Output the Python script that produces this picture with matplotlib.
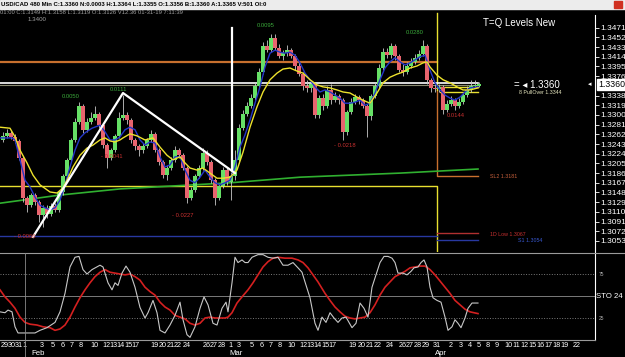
import matplotlib
matplotlib.use("Agg")
import matplotlib.pyplot as plt
from matplotlib.patches import Rectangle
from matplotlib.lines import Line2D

plt.rcParams['font.family'] = ['Liberation Sans Narrow', 'Liberation Sans', 'DejaVu Sans']

# USD/CAD 480 min bars (x = bar index)
opens = [1.3251, 1.3259, 1.3265, 1.3257, 1.3249, 1.3216, 1.3137, 1.3123, 1.3143, 1.3129,
         1.3104, 1.3118, 1.3106, 1.3122, 1.3114, 1.3149, 1.3180, 1.3212, 1.3251, 1.3286,
         1.3318, 1.3271, 1.3286, 1.3294, 1.3302, 1.3280, 1.3241, 1.3216, 1.3231, 1.3259,
         1.3294, 1.3300, 1.3290, 1.3251, 1.3239, 1.3231, 1.3239, 1.3251, 1.3263, 1.3231,
         1.3208, 1.3182, 1.3196, 1.3212, 1.3231, 1.3221, 1.3196, 1.3137, 1.3153, 1.3180,
         1.3196, 1.3225, 1.3208, 1.3172, 1.3137, 1.3161, 1.3192, 1.3168, 1.3180, 1.3212,
         1.3274, 1.3302, 1.3318, 1.3333, 1.3357, 1.3384, 1.3435, 1.3427, 1.3451, 1.3431,
         1.3416, 1.3421, 1.3427, 1.3416, 1.3396, 1.3380, 1.3357, 1.3353, 1.3361, 1.3300,
         1.3333, 1.3318, 1.3349, 1.3329, 1.3337, 1.3329, 1.3267, 1.3306, 1.3325, 1.3335,
         1.3329, 1.3318, 1.3298, 1.3337, 1.3357, 1.3392, 1.3423, 1.3417, 1.3435, 1.3416,
         1.3388, 1.3384, 1.3396, 1.3404, 1.3412, 1.3419, 1.3435, 1.3369, 1.3353, 1.3351,
         1.3355, 1.3310, 1.3321, 1.3329, 1.3318, 1.3325, 1.3339, 1.3349, 1.3357, 1.3356]
closes = [1.3259, 1.3265, 1.3257, 1.3249, 1.3216, 1.3137, 1.3123, 1.3143, 1.3129, 1.3104,
          1.3118, 1.3106, 1.3122, 1.3114, 1.3149, 1.3180, 1.3212, 1.3251, 1.3286, 1.3318,
          1.3271, 1.3286, 1.3294, 1.3302, 1.3280, 1.3241, 1.3216, 1.3231, 1.3259, 1.3294,
          1.3300, 1.3290, 1.3251, 1.3239, 1.3231, 1.3239, 1.3251, 1.3263, 1.3231, 1.3208,
          1.3182, 1.3196, 1.3212, 1.3231, 1.3221, 1.3196, 1.3137, 1.3153, 1.3180, 1.3196,
          1.3225, 1.3208, 1.3172, 1.3137, 1.3161, 1.3192, 1.3168, 1.3180, 1.3212, 1.3274,
          1.3302, 1.3318, 1.3333, 1.3357, 1.3384, 1.3435, 1.3427, 1.3451, 1.3431, 1.3416,
          1.3421, 1.3427, 1.3416, 1.3396, 1.3380, 1.3357, 1.3353, 1.3361, 1.3300, 1.3333,
          1.3318, 1.3349, 1.3329, 1.3337, 1.3329, 1.3267, 1.3306, 1.3325, 1.3335, 1.3329,
          1.3318, 1.3298, 1.3337, 1.3357, 1.3392, 1.3423, 1.3417, 1.3435, 1.3416, 1.3388,
          1.3384, 1.3396, 1.3404, 1.3412, 1.3419, 1.3435, 1.3369, 1.3353, 1.3351, 1.3355,
          1.3310, 1.3321, 1.3329, 1.3318, 1.3325, 1.3339, 1.3349, 1.3357, 1.3359, 1.3360]
highs = [1.3267, 1.3272, 1.3269, 1.3263, 1.3253, 1.3219, 1.3141, 1.3147, 1.3147, 1.3133,
         1.3123, 1.3123, 1.3127, 1.3127, 1.3153, 1.3184, 1.3216, 1.3255, 1.3294, 1.3325,
         1.3321, 1.3294, 1.3306, 1.3318, 1.3306, 1.3284, 1.3245, 1.3235, 1.3263, 1.3306,
         1.3339, 1.3306, 1.3294, 1.3255, 1.3243, 1.3245, 1.3255, 1.3271, 1.3267, 1.3235,
         1.3212, 1.3202, 1.3218, 1.3239, 1.3235, 1.3225, 1.3200, 1.3159, 1.3184, 1.3202,
         1.3235, 1.3231, 1.3212, 1.3176, 1.3165, 1.3198, 1.3196, 1.3188, 1.3231, 1.3282,
         1.3310, 1.3325, 1.3341, 1.3365, 1.3392, 1.3443, 1.3447, 1.3459, 1.3459, 1.3439,
         1.3427, 1.3437, 1.3431, 1.3419, 1.3404, 1.3384, 1.3369, 1.3365, 1.3365, 1.3339,
         1.3341, 1.3357, 1.3361, 1.3345, 1.3341, 1.3333, 1.3310, 1.3333, 1.3341, 1.3339,
         1.3333, 1.3321, 1.3341, 1.3365, 1.3400, 1.3431, 1.3431, 1.3441, 1.3439, 1.3419,
         1.3400, 1.3404, 1.3412, 1.3419, 1.3427, 1.3447, 1.3439, 1.3372, 1.3361, 1.3361,
         1.3359, 1.3329, 1.3337, 1.3333, 1.3333, 1.3345, 1.3357, 1.3369, 1.3369, 1.3364]
lows = [1.3247, 1.3255, 1.3253, 1.3245, 1.3212, 1.3129, 1.3110, 1.3120, 1.3123, 1.3090,
        1.3080, 1.3098, 1.3102, 1.3110, 1.3110, 1.3143, 1.3176, 1.3208, 1.3247, 1.3282,
        1.3265, 1.3267, 1.3282, 1.3290, 1.3274, 1.3235, 1.3196, 1.3212, 1.3227, 1.3255,
        1.3290, 1.3282, 1.3245, 1.3231, 1.3219, 1.3225, 1.3235, 1.3247, 1.3227, 1.3202,
        1.3176, 1.3172, 1.3192, 1.3208, 1.3216, 1.3192, 1.3127, 1.3133, 1.3149, 1.3176,
        1.3192, 1.3202, 1.3167, 1.3123, 1.3133, 1.3157, 1.3163, 1.3133, 1.3172, 1.3206,
        1.3271, 1.3298, 1.3314, 1.3329, 1.3353, 1.3380, 1.3423, 1.3423, 1.3427, 1.3412,
        1.3408, 1.3416, 1.3412, 1.3388, 1.3376, 1.3349, 1.3345, 1.3345, 1.3294, 1.3294,
        1.3310, 1.3314, 1.3321, 1.3325, 1.3321, 1.3251, 1.3261, 1.3302, 1.3321, 1.3321,
        1.3314, 1.3257, 1.3290, 1.3333, 1.3353, 1.3388, 1.3412, 1.3412, 1.3408, 1.3384,
        1.3376, 1.3380, 1.3392, 1.3400, 1.3408, 1.3416, 1.3361, 1.3345, 1.3345, 1.3345,
        1.3302, 1.3306, 1.3318, 1.3310, 1.3314, 1.3321, 1.3335, 1.3345, 1.3353, 1.3355]

# moving averages (bar index, price)
ma_slow_x = [-0.75, 1.75, 3, 4.25, 6, 7.5, 9.25, 11.75, 13.5, 15, 16.25, 17.5, 19.25, 21, 22.5,
             24.25, 25.5, 26.75, 28, 29.25, 30, 31.75, 33.5, 35.5, 37.5, 39.25, 41, 42.5, 44.25,
             45.5, 46.75, 48.5, 50, 51.75, 53.5, 55, 56.75, 58.5, 60, 61.75, 63.5, 65, 66.75, 68.5,
             70, 71.75, 73.5, 75, 76.75, 78.5, 80, 81.75, 83.5, 85, 86.75, 88.5, 90, 91.75, 93.5,
             95, 96.75, 98.5, 100, 101.75, 103.5, 105, 106, 106.75, 108.5, 110, 111.75, 113.5, 115,
             116.75, 118.75]
ma_slow = [1.3276, 1.3274, 1.3257, 1.3231, 1.3206, 1.3182, 1.3163, 1.3149, 1.3147, 1.3157, 1.3176,
           1.3198, 1.3221, 1.3235, 1.3241, 1.3251, 1.3255, 1.3249, 1.3247, 1.3251, 1.3255, 1.3263,
           1.3259, 1.3251, 1.3255, 1.3237, 1.3221, 1.3212, 1.3218, 1.3206, 1.3196, 1.3192, 1.3196,
           1.3186, 1.3176, 1.3176, 1.3178, 1.3192, 1.3227, 1.3276, 1.3316, 1.3345, 1.3369, 1.3382,
           1.3390, 1.3392, 1.3386, 1.3382, 1.3369, 1.3359, 1.3355, 1.3353, 1.3349, 1.3345, 1.3343,
           1.3335, 1.3329, 1.3323, 1.3343, 1.3363, 1.3374, 1.3380, 1.3384, 1.3392, 1.3396, 1.3402,
           1.3404, 1.3394, 1.3378, 1.3369, 1.3363, 1.3355, 1.3349, 1.3349, 1.3353]
ma_fast_x = [-0.75, 2.25, 3, 4.25, 5.5, 6.75, 8, 9.25, 10.5, 11.75, 13, 14.25, 15.5, 16.75, 18,
             19.25, 20.5, 22.25, 24.25, 25.5, 26.75, 28, 29.25, 30.5, 31.75, 33, 34.25, 35.5, 36.75,
             38, 39.25, 40.5, 41.75, 43, 44.25, 45.5, 46.75, 48, 49.25, 50.5, 51.75, 53, 54.25, 55.5,
             56.75, 58, 59.25, 60.5, 61.75, 63, 64.25, 65.5, 66.75, 68, 69.25, 70.5, 71.75, 73, 74.25,
             75.5, 76.75, 78, 79.25, 80.5, 81.75, 83, 84.25, 85.5, 86.75, 88, 89.25, 90.5, 91.75, 93,
             94.25, 95.5, 96.75, 98, 99.25, 100.5, 101.75, 103, 104.25, 105.5, 106.75, 108, 109.25,
             110.5, 111.75, 113, 114.25, 115.5, 116.75, 118.75]
ma_fast = [1.3255, 1.3255, 1.3251, 1.3212, 1.3172, 1.3159, 1.3139, 1.3123, 1.3118, 1.3114, 1.3118,
           1.3133, 1.3163, 1.3198, 1.3231, 1.3255, 1.3265, 1.3274, 1.3280, 1.3267, 1.3251, 1.3251,
           1.3257, 1.3271, 1.3276, 1.3271, 1.3251, 1.3241, 1.3247, 1.3245, 1.3218, 1.3198, 1.3202,
           1.3218, 1.3218, 1.3192, 1.3172, 1.3167, 1.3178, 1.3192, 1.3178, 1.3167, 1.3163, 1.3167,
           1.3172, 1.3198, 1.3237, 1.3261, 1.3290, 1.3323, 1.3355, 1.3394, 1.3421, 1.3427, 1.3423,
           1.3421, 1.3423, 1.3417, 1.3402, 1.3382, 1.3369, 1.3355, 1.3345, 1.3349, 1.3345, 1.3339,
           1.3333, 1.3323, 1.3323, 1.3325, 1.3329, 1.3319, 1.3323, 1.3343, 1.3369, 1.3392, 1.3404,
           1.3412, 1.3404, 1.3398, 1.3402, 1.3408, 1.3414, 1.3417, 1.3388, 1.3363, 1.3349, 1.3339,
           1.3333, 1.3329, 1.3335, 1.3345, 1.3353, 1.3355]
ma_long_x = [-0.75, 14.25, 29.25, 56.75, 74.25, 99.25, 118.75]
ma_long = [1.3127, 1.3143, 1.3155, 1.3167, 1.3178, 1.3186, 1.3194]

# stochastic %K / %D
sto_k_x = [-0.75, 0.5, 1.25, 2.25, 3, 3.75, 6, 8, 9.25, 11, 13, 14.25, 15.5, 16.75, 18, 19, 20, 21,
           22.25, 24.25, 25, 26.25, 27.25, 28, 28.75, 29.75, 30.75, 31.75, 33, 34.25, 35.5, 36.25,
           37.5, 38.5, 39.25, 40.5, 41.75, 43, 44.25, 45, 46, 46.75, 48, 49.25, 50.25, 51.25, 52.5,
           53.5, 54.75, 55.75, 56.25, 57.25, 58, 58.75, 59.75, 60.5, 61.25, 62.25, 63.75, 65, 66.25,
           67.5, 68.75, 70, 71.25, 72.5, 73.75, 74.75, 75.5, 76.75, 78, 78.75, 79.75, 80.75, 81.75,
           82.75, 83.75, 84.75, 85.75, 87.25, 88.25, 89.25, 90.25, 91.25, 92.25, 93.25, 94.25, 95.25,
           96.25, 97.25, 98, 98.75, 100, 101, 102, 102.75, 103.75, 104.5, 105.25, 106, 106.75, 107.5,
           108.5, 109.5, 110.5, 111.25, 112.25, 113, 113.75, 114.5, 115.5, 116.25, 117.25, 118.75]
sto_k = [32, 31, 34, 32, 15, 8, 8, 8, 11, 14, 20, 32, 53, 83, 94, 95, 80, 75, 80, 85, 83, 65, 57, 65,
         62, 76, 84, 77, 60, 37, 25, 31, 45, 31, 11, 8, 17, 28, 43, 23, 6, 3, 15, 36, 49, 40, 19, 17,
         36, 43, 32, 65, 94, 88, 91, 88, 88, 94, 97, 97, 94, 93, 94, 85, 85, 88, 82, 77, 66, 48, 19,
         11, 26, 20, 31, 25, 20, 25, 26, 14, 19, 42, 36, 26, 60, 74, 88, 95, 95, 93, 88, 76, 76, 74,
         78, 82, 83, 88, 91, 83, 60, 48, 45, 43, 26, 11, 15, 23, 19, 14, 25, 36, 42, 42]
sto_d_x = [-0.75, 0.5, 1.75, 3, 4.25, 5.5, 6.75, 8.5, 10, 11.75, 13, 14.25, 15.5, 16.75, 18, 19.25,
           20.5, 21.75, 23, 24.25, 25.5, 26.75, 28, 29.25, 30.5, 31.75, 33, 34.25, 35.5, 36.75, 38,
           39.25, 40.5, 41.75, 43, 44.25, 45.5, 46.75, 48, 49.25, 50.5, 51.75, 53, 54.25, 55.5, 56.25,
           57.25, 58.5, 59.75, 61.25, 62.5, 63.75, 65, 66.25, 67.5, 68.75, 70.5, 72.25, 73.75, 75,
           76.25, 77.5, 78.75, 80.5, 81.75, 83, 84.25, 85.5, 86.75, 88, 89.25, 90.5, 91.75, 93, 94.25,
           95.5, 96.75, 98, 99.25, 100.5, 101.75, 103, 104.25, 105.5, 106.75, 108, 109.25, 110.5,
           111.75, 113, 114.25, 115.5, 116.75, 118.75]
sto_d = [57, 49, 43, 36, 26, 20, 18, 17, 15, 14, 11, 12.5, 17, 26, 37.5, 48, 57, 65, 72, 77, 80, 77,
         76, 75, 74, 75, 72, 68, 60, 55, 51, 43, 37.5, 34, 28, 26, 24, 19, 17, 19, 25, 26, 25, 25, 25,
         26, 31, 42, 49, 57, 65, 74, 83, 89, 93, 94, 93, 93, 91, 88, 82, 74, 66, 53, 45, 37.5, 32, 27,
         25, 24, 25, 26, 31, 40, 51, 60, 66, 72, 75, 78, 82, 83, 84, 84, 80, 74, 67, 60, 53, 45, 40,
         35, 32, 30]

price_ticks = [1.3471, 1.3452, 1.3433, 1.3414, 1.3395, 1.3376, 1.3338, 1.3319, 1.3300, 1.3281,
               1.3262, 1.3243, 1.3224, 1.3205, 1.3186, 1.3167, 1.3148, 1.3129, 1.3110, 1.3091,
               1.3072, 1.3053]
date_pos = [0.375, 2.125, 3.875, 5.375, 9.75, 12.5, 15, 17.25, 19.5, 22.75, 25.75, 27.5, 29.5, 31.25,
            33, 38, 40, 42, 43.75, 46, 51, 52.75, 54.75, 56.75, 59, 62.25, 64.75, 67, 69.25, 72, 75,
            76.75, 78.75, 80.5, 82.25, 87.5, 89.75, 91.75, 93.75, 96.75, 100, 101.75, 103.75, 105.75,
            108.5, 112, 114.5, 116.75, 119, 121.25, 123.5, 126.25, 128.25, 130.25, 132.25, 134.5,
            136.25, 138.5, 140.5, 143.5]
date_lbl = ['29', '30', '31', '1', '3', '5', '6', '7', '8', '10', '12', '13', '14', '15', '17',
            '19', '20', '21', '22', '24', '26', '27', '28', '1', '3', '5', '6', '7', '8', '10', '12',
            '13', '14', '15', '17', '19', '20', '21', '22', '24', '26', '27', '28', '29', '31', '2',
            '3', '4', '5', '8', '9', '10', '11', '12', '15', '16', '17', '18', '19', '22']
months = ['Feb', 'Mar', 'Apr']
month_pos = [8.75, 58.25, 109.5]

# swing labels: (bar, price, text, colour)
swing_labels = [(17, 1.3337, '0.0050', 'g'), (28.75, 1.3349, '0.0111', 'g'),
                (27.25, 1.3218, '- 0.0041', 'r'), (5.5, 1.3061, '- 0.0066', 'r'),
                (45, 1.3102, '- 0.0227', 'r'), (65.75, 1.3475, '0.0095', 'g'),
                (85.5, 1.3241, '- 0.0218', 'r'), (103, 1.3461, '0.0280', 'g'),
                (113.25, 1.3298, '0.0144', 'r')]
zigzag_x = [7.5, 30, 58]
zigzag_y = [1.3061, 1.3343, 1.3186]


def fx(px):
    return px / 625


def fy(py):
    return 1 - py / 357


fig = plt.figure(figsize=(6.25, 3.57), dpi=100, facecolor='black')
ax = fig.add_axes([0, fy(253), fx(595), (253 - 10) / 357])
sto = fig.add_axes([0, fy(340), fx(595), (340 - 252) / 357])
for a in (ax, sto):
    a.set_facecolor('black')
    a.set_xlim(-0.75, 148)
    for s in a.spines.values():
        s.set_visible(False)
ax.set_ylim(1.30294, 1.35057)
sto.set_ylim(0, 100)

# level lines
ax.plot([-0.75, 108.5], [1.3404, 1.3404], color='#C8702E', lw=1.6)
ax.plot([108.5, 108.5, 118.75], [1.3349, 1.3181, 1.3181], color='#C8702E', lw=1.0)
ax.plot([108.5, 108.5], [1.3500, 1.3349], color='#E8E030', lw=1.0)
ax.plot([-0.75, 118.75], [1.3362, 1.3362], color='white', lw=1.2)
ax.plot([-0.75, 118.75], [1.3358, 1.3358], color='#8A8A70', lw=0.8)
ax.plot([109.25, 118.75], [1.3355, 1.3355], color='#E8E030', lw=1.0)
ax.plot([109.25, 118.75], [1.3344, 1.3344], color='#E8E030', lw=1.0)
ax.plot([-0.75, 108.5, 108.5], [1.3161, 1.3161, 1.3030], color='#E8E030', lw=1.0)
ax.plot([-0.75, 108.5], [1.3062, 1.3062], color='#2838A0', lw=1.0)
ax.plot([108.5, 118.75], [1.3055, 1.3055], color='#2838A0', lw=1.0)
ax.plot([108.5, 118.75], [1.3068, 1.3068], color='#B03030', lw=1.0)
ax.plot(ma_long_x, ma_long, color='#30B030', lw=1.2)

# candles
xs = list(range(len(closes)))
ax.vlines(xs, lows, highs, color='#C8C8C8', lw=0.6, zorder=3)
bottoms = [min(o, c) for o, c in zip(opens, closes)]
heights = [max(abs(c - o), 0.00008) for o, c in zip(opens, closes)]
cols = ['#66E066' if c >= o else '#E8646E' for o, c in zip(opens, closes)]
ax.bar(xs, heights, bottom=bottoms, width=0.8, color=cols, zorder=4)

ax.plot(ma_fast_x, ma_fast, color='#2436C8', lw=1.0, zorder=5)
ax.plot(ma_slow_x, ma_slow, color='#EDE22C', lw=1.0, zorder=5)
ax.plot(zigzag_x, zigzag_y, color='white', lw=1.6, zorder=6)
ax.plot([57.25, 57.25], [1.3470, 1.3192], color='white', lw=1.6, zorder=6)

for bx, py, t, c in swing_labels:
    ax.text(bx, py, t, color='#3AA83A' if c == 'g' else '#C83030', fontsize=4.2,
            ha='center', va='center', zorder=7)

# price axis
ax.yaxis.tick_right()
ax.set_yticks(price_ticks)
ax.set_yticklabels([f'{v:.4f}' for v in price_ticks])
ax.tick_params(axis='y', colors='white', length=3, width=0.6, pad=1, labelsize=6)
ax.set_xticks([])
ax.text(1.006, 1.3360, '1.3360', transform=ax.get_yaxis_transform(), color='black',
        fontsize=6.3, va='center', ha='left',
        bbox=dict(boxstyle='square,pad=0.15', fc='white', ec='white'))

# stochastic
sto.axhline(75, color='#7A7A7A', ls=':', lw=0.7)
sto.axhline(25, color='#7A7A7A', ls=':', lw=0.7)
sto.axhline(50, color='#7A7A7A', lw=0.7)
sto.plot(sto_d_x, sto_d, color='#D42020', lw=1.2)
sto.plot(sto_k_x, sto_k, color='#C8C8C8', lw=0.8)
sto.yaxis.tick_right()
sto.set_yticks([25, 75])
sto.set_yticklabels(['25', '75'])
sto.tick_params(axis='y', colors='#B0B0B0', length=0, pad=3, labelsize=3.5)
sto.set_xticks(date_pos)
sto.set_xticklabels(date_lbl)
sto.tick_params(axis='x', colors='white', length=0, pad=1.5, labelsize=5.2)
for m, p in zip(months, month_pos):
    sto.text(p, -15, m, color='white', fontsize=5.6, ha='center', va='center', clip_on=False)

# frame lines
fig.add_artist(Line2D([fx(594.5)] * 2, [fy(15), fy(340)], color='white', lw=0.8))
fig.add_artist(Line2D([0, 1], [fy(253)] * 2, color='#9A9A9A', lw=0.8))
fig.add_artist(Line2D([0, fx(595)], [fy(340)] * 2, color='#9A9A9A', lw=0.8))
fig.add_artist(Line2D([fx(25)] * 2, [fy(253), 0], color='#8A8A8A', lw=0.6))

# header and labels
fig.add_artist(Rectangle((0, fy(9)), 1, 9 / 357, color='#ECECEC'))
fig.add_artist(Rectangle((fx(614), fy(8)), fx(8), 7 / 357, color='#D03020'))
fig.text(fx(1), fy(4.5), 'USD/CAD 480 Min C:1.3360 N:0.0003 H:1.3364 L:1.3355 O:1.3356 '
         'B:1.3360 A:1.3365 V:501 OI:0', color='black', fontsize=4.3, weight='bold', va='center')
fig.text(fx(0), fy(12.5), '01:00 C:1.3149 H:1.3158 L:1.3119 O:1.3126 V12.36 01-31-19 7:11:39',
         color='#A0A0A0', fontsize=4.2, va='center')
fig.text(fx(37), fy(19.5), '1.3400', color='#A0A0A0', fontsize=4.4, va='center', ha='center')
fig.text(fx(483), fy(23), 'T=Q Levels New', color='white', fontsize=7, va='center')
fig.text(fx(514), fy(85), '= \u25c2 1.3360', color='white', fontsize=7, va='center')
fig.text(fx(588), fy(84.5), '\u25c2', color='white', fontsize=5, va='center')
fig.text(fx(519), fy(92.5), '8 PullOver 1.3344', color='#E8E8C0', fontsize=3.8, va='center')
fig.text(fx(490), fy(176), 'SL2 1.3181', color='#C8603C', fontsize=3.8, va='center')
fig.text(fx(490), fy(234), '1D Low 1.3067', color='#C83030', fontsize=3.8, va='center')
fig.text(fx(518), fy(240), 'S1 1.3054', color='#3858D0', fontsize=3.8, va='center')
fig.text(fx(596), fy(297), 'STO 24', color='white', fontsize=5.6, va='center')

fig.savefig('out.png', dpi=100, facecolor='black')
